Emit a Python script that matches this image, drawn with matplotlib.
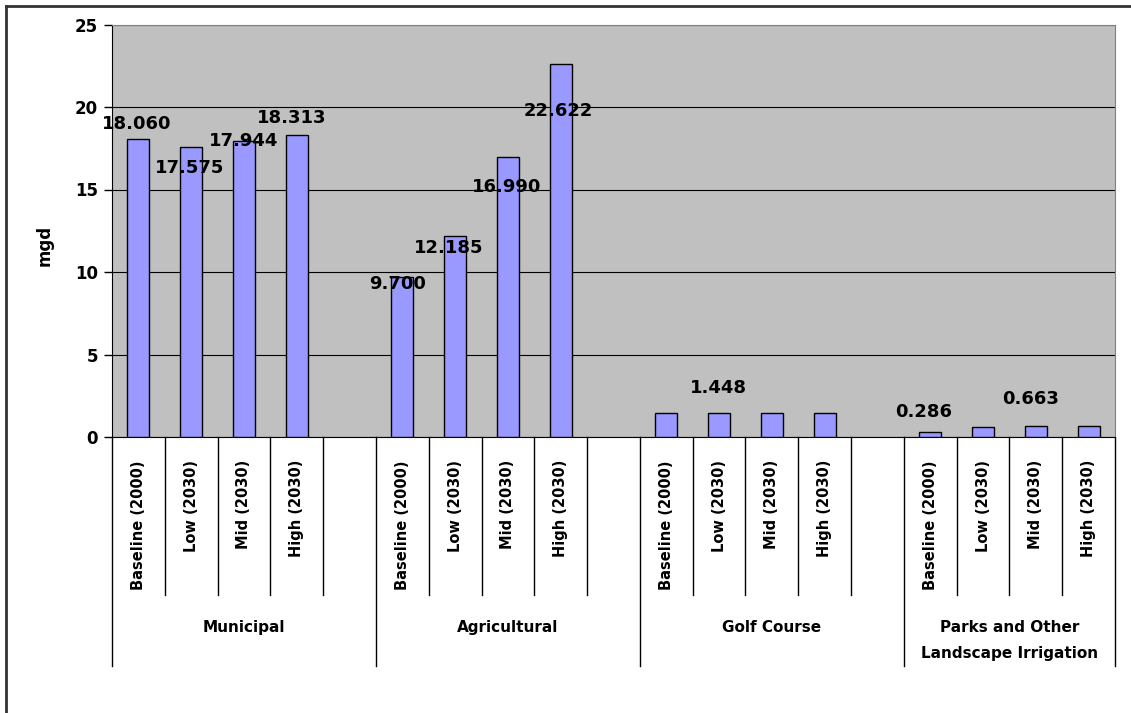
import matplotlib.pyplot as plt
from matplotlib.lines import Line2D

groups = ["Municipal", "Agricultural", "Golf Course", "Parks and Other\nLandscape Irrigation"]
scenarios = ["Baseline (2000)", "Low (2030)", "Mid (2030)", "High (2030)"]
municipal = [18.060, 17.575, 17.944, 18.313]
agricultural = [9.700, 12.185, 16.990, 22.622]
golf = [1.448, 1.448, 1.448, 1.448]
parks = [0.286, 0.600, 0.663, 0.680]
# which bars carry a value label (group index, scenario index)
labelled = [(0, 0), (0, 1), (0, 2), (0, 3), (1, 0), (1, 1), (1, 2), (1, 3),
            (2, 1), (3, 0), (3, 2)]

# hand placed label offsets in pixels (dx, dy), like the original
label_off = {(0, 0): (-2, 15), (0, 1): (-2, -21), (0, 2): (0, 0), (0, 3): (-5, 17),
             (1, 0): (-5, -7), (1, 1): (-6, -12), (1, 2): (-1, -30), (1, 3): (-2, -47),
             (2, 1): (-1, 25), (3, 0): (-7, 20), (3, 2): (-5, 27)}

plt.rcParams['font.family'] = ['DejaVu Sans']
plt.rcParams['font.weight'] = 'bold'

W, H = 1131, 713
fig = plt.figure(figsize=(W / 100, H / 100), dpi=100)
ax = fig.add_axes([112 / W, (H - 437) / H, 1003 / W, 412.5 / H])
ax.set_facecolor("#C0C0C0")

series = [municipal, agricultural, golf, parks]
slot = 5
for g, vals in enumerate(series):
    xs = [g * slot + i for i in range(len(vals))]
    ax.bar(xs, vals, width=0.42, color="#9999FF", edgecolor="black", lw=1, zorder=3)
    for i, v in enumerate(vals):
        if (g, i) in labelled:
            dx, dy = label_off[(g, i)]
            ax.annotate(f"{v:.3f}", (xs[i], v), xytext=(dx, dy),
                        textcoords="offset pixels", ha="center", va="center",
                        fontsize=13, fontweight="bold", zorder=4)

n_slots = 4 * slot - 1
ax.set_xlim(-0.5, n_slots - 0.5)
ax.set_ylim(0, 25)
ax.set_yticks(range(0, 26, 5))
ax.yaxis.grid(True, color="black", lw=0.8)
ax.set_axisbelow(True)
ax.tick_params(axis="y", length=6, width=1, labelsize=12, pad=4)
ax.set_xticks([])
for s in ["top", "right"]:
    ax.spines[s].set_color("#808080")
ax.spines["left"].set_color("black")
ax.spines["bottom"].set_color("black")

tr = ax.get_xaxis_transform()
for k in range(n_slots + 1):
    x = k - 0.5
    big = (k % slot == 0) or k == n_slots
    ax.add_line(Line2D([x, x], [0, -0.555 if big else -0.383], transform=tr,
                       color="black", lw=1, clip_on=False))
for g in range(len(groups)):
    for i, s in enumerate(scenarios):
        ax.text(g * slot + i, -0.056, s, transform=tr, rotation=90, ha="center",
                va="top", fontsize=10.5, fontweight="bold")
    n_in = slot if g < len(groups) - 1 else len(scenarios)
    two = "\n" in groups[g]
    ax.text(g * slot + (n_in - 1) / 2, -0.494 if two else -0.461, groups[g],
            transform=tr, ha="center", va="center", fontsize=11,
            fontweight="bold", linespacing=1.9)

fig.text(45 / W, 1 - 245 / H, "mgd", rotation=90, ha="center", va="center",
         fontsize=12, fontweight="bold")

fig.add_artist(Line2D([5.5 / W, 5.5 / W], [0, 1 - 6 / H], color="#333333", lw=2))
fig.add_artist(Line2D([5.5 / W, 1], [1 - 6 / H, 1 - 6 / H], color="#333333", lw=2))

fig.savefig("out.png", dpi=100)
